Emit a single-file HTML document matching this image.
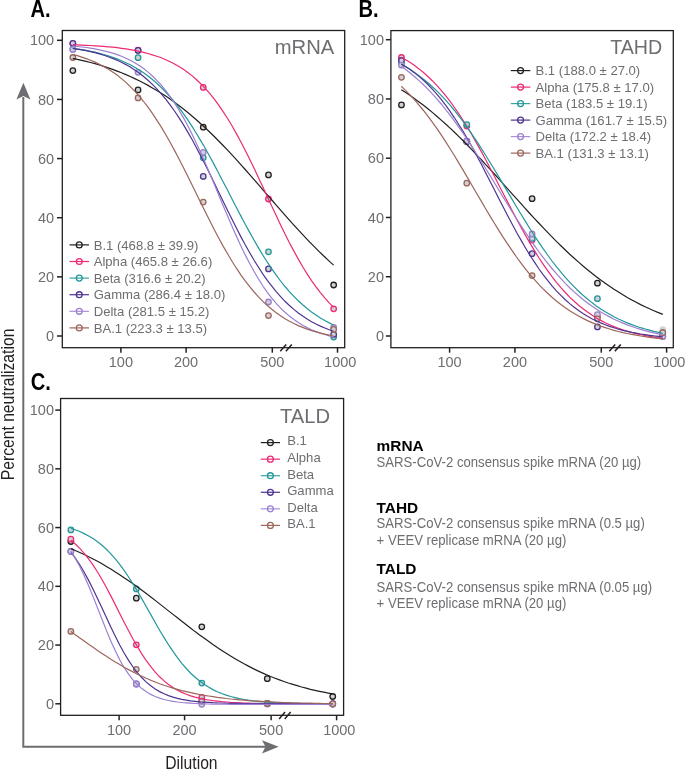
<!DOCTYPE html>
<html><head><meta charset="utf-8"><style>
html,body{margin:0;padding:0;background:#fff;}
body{width:685px;height:770px;overflow:hidden;}
svg{display:block;will-change:transform;font-family:"Liberation Sans", sans-serif;}
</style></head><body>
<svg width="685" height="770" viewBox="0 0 685 770">
<rect width="100%" height="100%" fill="#fff"/>
<rect x="62.3" y="30.5" width="282.40" height="317.20" fill="none" stroke="#231f20" stroke-width="1.3"/>
<line x1="57.0" y1="336.00" x2="62.3" y2="336.00" stroke="#231f20" stroke-width="1.5"/>
<text x="54.20" y="341.10" font-size="14.5" fill="#6d6e71" text-anchor="end" font-weight="normal" >0</text>
<line x1="57.0" y1="276.86" x2="62.3" y2="276.86" stroke="#231f20" stroke-width="1.5"/>
<text x="54.20" y="281.96" font-size="14.5" fill="#6d6e71" text-anchor="end" font-weight="normal" >20</text>
<line x1="57.0" y1="217.72" x2="62.3" y2="217.72" stroke="#231f20" stroke-width="1.5"/>
<text x="54.20" y="222.82" font-size="14.5" fill="#6d6e71" text-anchor="end" font-weight="normal" >40</text>
<line x1="57.0" y1="158.58" x2="62.3" y2="158.58" stroke="#231f20" stroke-width="1.5"/>
<text x="54.20" y="163.68" font-size="14.5" fill="#6d6e71" text-anchor="end" font-weight="normal" >60</text>
<line x1="57.0" y1="99.44" x2="62.3" y2="99.44" stroke="#231f20" stroke-width="1.5"/>
<text x="54.20" y="104.54" font-size="14.5" fill="#6d6e71" text-anchor="end" font-weight="normal" >80</text>
<line x1="57.0" y1="40.30" x2="62.3" y2="40.30" stroke="#231f20" stroke-width="1.5"/>
<text x="54.20" y="45.40" font-size="14.5" fill="#6d6e71" text-anchor="end" font-weight="normal" >100</text>
<line x1="120.90" y1="347.7" x2="120.90" y2="352.7" stroke="#231f20" stroke-width="1.5"/>
<text x="120.90" y="367.30" font-size="14.5" fill="#6d6e71" text-anchor="middle" font-weight="normal" >100</text>
<line x1="186.10" y1="347.7" x2="186.10" y2="352.7" stroke="#231f20" stroke-width="1.5"/>
<text x="186.10" y="367.30" font-size="14.5" fill="#6d6e71" text-anchor="middle" font-weight="normal" >200</text>
<line x1="272.30" y1="347.7" x2="272.30" y2="352.7" stroke="#231f20" stroke-width="1.5"/>
<text x="272.30" y="367.30" font-size="14.5" fill="#6d6e71" text-anchor="middle" font-weight="normal" >500</text>
<line x1="337.50" y1="347.7" x2="337.50" y2="352.7" stroke="#231f20" stroke-width="1.5"/>
<text x="340.20" y="367.30" font-size="14.5" fill="#6d6e71" text-anchor="middle" font-weight="normal" >1000</text>
<line x1="280.30" y1="351.30" x2="286.20" y2="344.40" stroke="#231f20" stroke-width="1.5"/>
<line x1="285.90" y1="351.30" x2="291.80" y2="344.40" stroke="#231f20" stroke-width="1.5"/>
<text x="334.20" y="54.30" font-size="20.2" fill="#6d6e71" text-anchor="end" font-weight="normal" >mRNA</text>
<line x1="69.5" y1="244.90" x2="89.0" y2="244.90" stroke="#231f20" stroke-width="1.2"/>
<circle cx="79.25" cy="244.90" r="2.95" fill="none" stroke="#231f20" stroke-width="1.3"/>
<text x="93.70" y="249.50" font-size="13.1" fill="#6d6e71" text-anchor="start" font-weight="normal" >B.1 (468.8 ± 39.9)</text>
<line x1="69.5" y1="261.50" x2="89.0" y2="261.50" stroke="#eb2a75" stroke-width="1.2"/>
<circle cx="79.25" cy="261.50" r="2.95" fill="none" stroke="#eb2a75" stroke-width="1.3"/>
<text x="93.70" y="266.10" font-size="13.1" fill="#6d6e71" text-anchor="start" font-weight="normal" >Alpha (465.8 ± 26.6)</text>
<line x1="69.5" y1="278.10" x2="89.0" y2="278.10" stroke="#3aa3a3" stroke-width="1.2"/>
<circle cx="79.25" cy="278.10" r="2.95" fill="none" stroke="#21979a" stroke-width="1.3"/>
<text x="93.70" y="282.70" font-size="13.1" fill="#6d6e71" text-anchor="start" font-weight="normal" >Beta (316.6 ± 20.2)</text>
<line x1="69.5" y1="294.70" x2="89.0" y2="294.70" stroke="#4e3492" stroke-width="1.2"/>
<circle cx="79.25" cy="294.70" r="2.95" fill="none" stroke="#4e3492" stroke-width="1.3"/>
<text x="93.70" y="299.30" font-size="13.1" fill="#6d6e71" text-anchor="start" font-weight="normal" >Gamma (286.4 ± 18.0)</text>
<line x1="69.5" y1="311.30" x2="89.0" y2="311.30" stroke="#a98fd8" stroke-width="1.2"/>
<circle cx="79.25" cy="311.30" r="2.95" fill="none" stroke="#9b7fd0" stroke-width="1.3"/>
<text x="93.70" y="315.90" font-size="13.1" fill="#6d6e71" text-anchor="start" font-weight="normal" >Delta (281.5 ± 15.2)</text>
<line x1="69.5" y1="327.90" x2="89.0" y2="327.90" stroke="#9c665b" stroke-width="1.2"/>
<circle cx="79.25" cy="327.90" r="2.95" fill="none" stroke="#9c665b" stroke-width="1.3"/>
<text x="93.70" y="332.50" font-size="13.1" fill="#6d6e71" text-anchor="start" font-weight="normal" >BA.1 (223.3 ± 13.5)</text>
<circle cx="72.85" cy="70.60" r="2.75" fill="#d1d2d4" stroke="#231f20" stroke-width="1.3"/>
<circle cx="138.05" cy="89.90" r="2.75" fill="#d1d2d4" stroke="#231f20" stroke-width="1.3"/>
<circle cx="203.25" cy="127.20" r="2.75" fill="#d1d2d4" stroke="#231f20" stroke-width="1.3"/>
<circle cx="268.46" cy="174.90" r="2.75" fill="#d1d2d4" stroke="#231f20" stroke-width="1.3"/>
<circle cx="333.66" cy="285.00" r="2.75" fill="#d1d2d4" stroke="#231f20" stroke-width="1.3"/>
<circle cx="72.85" cy="43.60" r="2.75" fill="#d1d2d4" stroke="#eb2a75" stroke-width="1.3"/>
<circle cx="138.05" cy="50.20" r="2.75" fill="#d1d2d4" stroke="#eb2a75" stroke-width="1.3"/>
<circle cx="203.25" cy="87.40" r="2.75" fill="#d1d2d4" stroke="#eb2a75" stroke-width="1.3"/>
<circle cx="268.46" cy="199.00" r="2.75" fill="#d1d2d4" stroke="#eb2a75" stroke-width="1.3"/>
<circle cx="333.66" cy="308.80" r="2.75" fill="#d1d2d4" stroke="#eb2a75" stroke-width="1.3"/>
<circle cx="72.85" cy="49.20" r="2.75" fill="#d1d2d4" stroke="#21979a" stroke-width="1.3"/>
<circle cx="138.05" cy="57.70" r="2.75" fill="#d1d2d4" stroke="#21979a" stroke-width="1.3"/>
<circle cx="203.25" cy="157.80" r="2.75" fill="#d1d2d4" stroke="#21979a" stroke-width="1.3"/>
<circle cx="268.46" cy="251.80" r="2.75" fill="#d1d2d4" stroke="#21979a" stroke-width="1.3"/>
<circle cx="333.66" cy="337.00" r="2.75" fill="#d1d2d4" stroke="#21979a" stroke-width="1.3"/>
<circle cx="72.85" cy="43.30" r="2.75" fill="#d1d2d4" stroke="#4e3492" stroke-width="1.3"/>
<circle cx="138.05" cy="50.40" r="2.75" fill="#d1d2d4" stroke="#4e3492" stroke-width="1.3"/>
<circle cx="203.25" cy="176.40" r="2.75" fill="#d1d2d4" stroke="#4e3492" stroke-width="1.3"/>
<circle cx="268.46" cy="268.90" r="2.75" fill="#d1d2d4" stroke="#4e3492" stroke-width="1.3"/>
<circle cx="333.66" cy="334.40" r="2.75" fill="#d1d2d4" stroke="#4e3492" stroke-width="1.3"/>
<circle cx="72.85" cy="49.40" r="2.75" fill="#d1d2d4" stroke="#9b7fd0" stroke-width="1.3"/>
<circle cx="138.05" cy="72.30" r="2.75" fill="#d1d2d4" stroke="#9b7fd0" stroke-width="1.3"/>
<circle cx="203.25" cy="152.30" r="2.75" fill="#d1d2d4" stroke="#9b7fd0" stroke-width="1.3"/>
<circle cx="268.46" cy="302.00" r="2.75" fill="#d1d2d4" stroke="#9b7fd0" stroke-width="1.3"/>
<circle cx="333.66" cy="327.50" r="2.75" fill="#d1d2d4" stroke="#9b7fd0" stroke-width="1.3"/>
<circle cx="72.85" cy="57.50" r="2.75" fill="#d1d2d4" stroke="#9c665b" stroke-width="1.3"/>
<circle cx="138.05" cy="97.90" r="2.75" fill="#d1d2d4" stroke="#9c665b" stroke-width="1.3"/>
<circle cx="203.25" cy="202.10" r="2.75" fill="#d1d2d4" stroke="#9c665b" stroke-width="1.3"/>
<circle cx="268.46" cy="315.60" r="2.75" fill="#d1d2d4" stroke="#9c665b" stroke-width="1.3"/>
<circle cx="333.66" cy="329.40" r="2.75" fill="#d1d2d4" stroke="#9c665b" stroke-width="1.3"/>
<path d="M72.8,58.3 L77.3,59.3 L81.7,60.3 L86.1,61.4 L90.5,62.5 L95.0,63.7 L99.4,65.0 L103.8,66.4 L108.2,67.9 L112.6,69.4 L117.1,71.1 L121.5,72.8 L125.9,74.6 L130.3,76.5 L134.7,78.6 L139.2,80.7 L143.6,83.0 L148.0,85.4 L152.4,87.9 L156.8,90.5 L161.3,93.2 L165.7,96.1 L170.1,99.1 L174.5,102.3 L178.9,105.6 L183.4,109.0 L187.8,112.5 L192.2,116.2 L196.6,120.0 L201.0,124.0 L205.5,128.0 L209.9,132.2 L214.3,136.5 L218.7,141.0 L223.1,145.5 L227.6,150.2 L232.0,154.9 L236.4,159.7 L240.8,164.6 L245.2,169.5 L249.7,174.6 L254.1,179.6 L258.5,184.7 L262.9,189.8 L267.3,194.9 L271.8,200.0 L276.2,205.1 L280.6,210.2 L285.0,215.2 L289.4,220.2 L293.9,225.1 L298.3,229.9 L302.7,234.7 L307.1,239.4 L311.5,243.9 L316.0,248.4 L320.4,252.8 L324.8,257.0 L329.2,261.1 L333.6,265.1" fill="none" stroke="#231f20" stroke-width="1.2"/>
<path d="M72.8,44.7 L77.3,44.9 L81.7,45.1 L86.1,45.3 L90.5,45.5 L95.0,45.8 L99.4,46.1 L103.8,46.4 L108.2,46.8 L112.6,47.2 L117.1,47.7 L121.5,48.3 L125.9,48.9 L130.3,49.6 L134.7,50.4 L139.2,51.3 L143.6,52.3 L148.0,53.5 L152.4,54.8 L156.8,56.2 L161.3,57.8 L165.7,59.7 L170.1,61.7 L174.5,64.0 L178.9,66.5 L183.4,69.3 L187.8,72.5 L192.2,75.9 L196.6,79.8 L201.0,84.0 L205.5,88.6 L209.9,93.7 L214.3,99.2 L218.7,105.2 L223.1,111.6 L227.6,118.5 L232.0,125.8 L236.4,133.6 L240.8,141.8 L245.2,150.3 L249.7,159.2 L254.1,168.3 L258.5,177.7 L262.9,187.1 L267.3,196.7 L271.8,206.2 L276.2,215.6 L280.6,224.9 L285.0,233.9 L289.4,242.7 L293.9,251.1 L298.3,259.1 L302.7,266.7 L307.1,273.9 L311.5,280.6 L316.0,286.8 L320.4,292.6 L324.8,297.9 L329.2,302.8 L333.6,307.3" fill="none" stroke="#eb2a75" stroke-width="1.2"/>
<path d="M72.8,48.4 L77.3,49.0 L81.7,49.7 L86.1,50.4 L90.5,51.3 L95.0,52.2 L99.4,53.3 L103.8,54.5 L108.2,55.8 L112.6,57.3 L117.1,58.9 L121.5,60.7 L125.9,62.7 L130.3,64.8 L134.7,67.3 L139.2,69.9 L143.6,72.8 L148.0,76.0 L152.4,79.5 L156.8,83.3 L161.3,87.5 L165.7,92.0 L170.1,96.8 L174.5,102.0 L178.9,107.6 L183.4,113.6 L187.8,119.9 L192.2,126.7 L196.6,133.7 L201.0,141.1 L205.5,148.8 L209.9,156.7 L214.3,164.9 L218.7,173.3 L223.1,181.8 L227.6,190.3 L232.0,198.9 L236.4,207.5 L240.8,215.9 L245.2,224.3 L249.7,232.4 L254.1,240.3 L258.5,247.9 L262.9,255.2 L267.3,262.2 L271.8,268.8 L276.2,275.1 L280.6,281.0 L285.0,286.5 L289.4,291.6 L293.9,296.3 L298.3,300.8 L302.7,304.8 L307.1,308.5 L311.5,312.0 L316.0,315.1 L320.4,317.9 L324.8,320.5 L329.2,322.9 L333.6,325.0" fill="none" stroke="#21979a" stroke-width="1.2"/>
<path d="M72.8,48.4 L77.3,49.1 L81.7,49.9 L86.1,50.7 L90.5,51.6 L95.0,52.7 L99.4,53.9 L103.8,55.2 L108.2,56.7 L112.6,58.4 L117.1,60.2 L121.5,62.3 L125.9,64.6 L130.3,67.1 L134.7,69.9 L139.2,73.0 L143.6,76.5 L148.0,80.2 L152.4,84.4 L156.8,88.9 L161.3,93.8 L165.7,99.1 L170.1,104.9 L174.5,111.0 L178.9,117.6 L183.4,124.6 L187.8,132.1 L192.2,139.8 L196.6,148.0 L201.0,156.4 L205.5,165.1 L209.9,174.0 L214.3,183.1 L218.7,192.2 L223.1,201.3 L227.6,210.4 L232.0,219.3 L236.4,228.1 L240.8,236.6 L245.2,244.8 L249.7,252.7 L254.1,260.2 L258.5,267.3 L262.9,274.1 L267.3,280.4 L271.8,286.2 L276.2,291.7 L280.6,296.7 L285.0,301.3 L289.4,305.5 L293.9,309.4 L298.3,312.9 L302.7,316.1 L307.1,319.0 L311.5,321.7 L316.0,324.0 L320.4,326.1 L324.8,328.0 L329.2,329.8 L333.6,331.3" fill="none" stroke="#4e3492" stroke-width="1.2"/>
<path d="M72.8,46.0 L77.3,46.5 L81.7,47.0 L86.1,47.5 L90.5,48.2 L95.0,48.9 L99.4,49.8 L103.8,50.8 L108.2,51.9 L112.6,53.2 L117.1,54.6 L121.5,56.3 L125.9,58.2 L130.3,60.3 L134.7,62.8 L139.2,65.5 L143.6,68.6 L148.0,72.1 L152.4,76.0 L156.8,80.4 L161.3,85.2 L165.7,90.6 L170.1,96.5 L174.5,102.9 L178.9,110.0 L183.4,117.6 L187.8,125.8 L192.2,134.5 L196.6,143.7 L201.0,153.4 L205.5,163.4 L209.9,173.8 L214.3,184.3 L218.7,194.9 L223.1,205.5 L227.6,216.0 L232.0,226.2 L236.4,236.2 L240.8,245.7 L245.2,254.9 L249.7,263.5 L254.1,271.5 L258.5,279.0 L262.9,286.0 L267.3,292.3 L271.8,298.1 L276.2,303.3 L280.6,308.1 L285.0,312.3 L289.4,316.1 L293.9,319.5 L298.3,322.6 L302.7,325.2 L307.1,327.6 L311.5,329.7 L316.0,331.5 L320.4,333.1 L324.8,334.5 L329.2,335.8 L333.6,336.9" fill="none" stroke="#9b7fd0" stroke-width="1.2"/>
<path d="M72.8,54.5 L77.3,55.7 L81.7,57.1 L86.1,58.6 L90.5,60.3 L95.0,62.1 L99.4,64.2 L103.8,66.6 L108.2,69.1 L112.6,72.0 L117.1,75.1 L121.5,78.6 L125.9,82.4 L130.3,86.6 L134.7,91.2 L139.2,96.1 L143.6,101.5 L148.0,107.2 L152.4,113.4 L156.8,120.1 L161.3,127.1 L165.7,134.5 L170.1,142.3 L174.5,150.4 L178.9,158.8 L183.4,167.4 L187.8,176.3 L192.2,185.2 L196.6,194.3 L201.0,203.3 L205.5,212.2 L209.9,221.0 L214.3,229.7 L218.7,238.0 L223.1,246.1 L227.6,253.8 L232.0,261.2 L236.4,268.2 L240.8,274.8 L245.2,280.9 L249.7,286.6 L254.1,292.0 L258.5,296.9 L262.9,301.4 L267.3,305.5 L271.8,309.3 L276.2,312.7 L280.6,315.8 L285.0,318.7 L289.4,321.2 L293.9,323.5 L298.3,325.6 L302.7,327.4 L307.1,329.1 L311.5,330.6 L316.0,331.9 L320.4,333.1 L324.8,334.2 L329.2,335.1 L333.6,336.0" fill="none" stroke="#9c665b" stroke-width="1.2"/>
<rect x="390.9" y="30.6" width="282.40" height="317.10" fill="none" stroke="#231f20" stroke-width="1.3"/>
<line x1="385.9" y1="336.00" x2="390.9" y2="336.00" stroke="#231f20" stroke-width="1.5"/>
<text x="384.00" y="341.10" font-size="14.5" fill="#6d6e71" text-anchor="end" font-weight="normal" >0</text>
<line x1="385.9" y1="276.74" x2="390.9" y2="276.74" stroke="#231f20" stroke-width="1.5"/>
<text x="384.00" y="281.84" font-size="14.5" fill="#6d6e71" text-anchor="end" font-weight="normal" >20</text>
<line x1="385.9" y1="217.48" x2="390.9" y2="217.48" stroke="#231f20" stroke-width="1.5"/>
<text x="384.00" y="222.58" font-size="14.5" fill="#6d6e71" text-anchor="end" font-weight="normal" >40</text>
<line x1="385.9" y1="158.22" x2="390.9" y2="158.22" stroke="#231f20" stroke-width="1.5"/>
<text x="384.00" y="163.32" font-size="14.5" fill="#6d6e71" text-anchor="end" font-weight="normal" >60</text>
<line x1="385.9" y1="98.96" x2="390.9" y2="98.96" stroke="#231f20" stroke-width="1.5"/>
<text x="384.00" y="104.06" font-size="14.5" fill="#6d6e71" text-anchor="end" font-weight="normal" >80</text>
<line x1="385.9" y1="39.70" x2="390.9" y2="39.70" stroke="#231f20" stroke-width="1.5"/>
<text x="384.00" y="44.80" font-size="14.5" fill="#6d6e71" text-anchor="end" font-weight="normal" >100</text>
<line x1="449.60" y1="347.7" x2="449.60" y2="352.7" stroke="#231f20" stroke-width="1.5"/>
<text x="449.60" y="367.30" font-size="14.5" fill="#6d6e71" text-anchor="middle" font-weight="normal" >100</text>
<line x1="514.92" y1="347.7" x2="514.92" y2="352.7" stroke="#231f20" stroke-width="1.5"/>
<text x="514.92" y="367.30" font-size="14.5" fill="#6d6e71" text-anchor="middle" font-weight="normal" >200</text>
<line x1="601.28" y1="347.7" x2="601.28" y2="352.7" stroke="#231f20" stroke-width="1.5"/>
<text x="601.28" y="367.30" font-size="14.5" fill="#6d6e71" text-anchor="middle" font-weight="normal" >500</text>
<line x1="666.60" y1="347.7" x2="666.60" y2="352.7" stroke="#231f20" stroke-width="1.5"/>
<text x="669.30" y="367.30" font-size="14.5" fill="#6d6e71" text-anchor="middle" font-weight="normal" >1000</text>
<line x1="609.28" y1="351.30" x2="615.18" y2="344.40" stroke="#231f20" stroke-width="1.5"/>
<line x1="614.88" y1="351.30" x2="620.78" y2="344.40" stroke="#231f20" stroke-width="1.5"/>
<text transform="translate(662.30,54.40) scale(0.975,1)" font-size="20.2" fill="#6d6e71" text-anchor="end" font-weight="normal" >TAHD</text>
<line x1="510.8" y1="70.60" x2="530.3" y2="70.60" stroke="#231f20" stroke-width="1.2"/>
<circle cx="520.55" cy="70.60" r="2.95" fill="none" stroke="#231f20" stroke-width="1.3"/>
<text x="535.50" y="75.20" font-size="13.1" fill="#6d6e71" text-anchor="start" font-weight="normal" >B.1 (188.0 ± 27.0)</text>
<line x1="510.8" y1="87.10" x2="530.3" y2="87.10" stroke="#eb2a75" stroke-width="1.2"/>
<circle cx="520.55" cy="87.10" r="2.95" fill="none" stroke="#eb2a75" stroke-width="1.3"/>
<text x="535.50" y="91.70" font-size="13.1" fill="#6d6e71" text-anchor="start" font-weight="normal" >Alpha (175.8 ± 17.0)</text>
<line x1="510.8" y1="103.60" x2="530.3" y2="103.60" stroke="#3aa3a3" stroke-width="1.2"/>
<circle cx="520.55" cy="103.60" r="2.95" fill="none" stroke="#21979a" stroke-width="1.3"/>
<text x="535.50" y="108.20" font-size="13.1" fill="#6d6e71" text-anchor="start" font-weight="normal" >Beta (183.5 ± 19.1)</text>
<line x1="510.8" y1="120.10" x2="530.3" y2="120.10" stroke="#4e3492" stroke-width="1.2"/>
<circle cx="520.55" cy="120.10" r="2.95" fill="none" stroke="#4e3492" stroke-width="1.3"/>
<text x="535.50" y="124.70" font-size="13.1" fill="#6d6e71" text-anchor="start" font-weight="normal" >Gamma (161.7 ± 15.5)</text>
<line x1="510.8" y1="136.60" x2="530.3" y2="136.60" stroke="#a98fd8" stroke-width="1.2"/>
<circle cx="520.55" cy="136.60" r="2.95" fill="none" stroke="#9b7fd0" stroke-width="1.3"/>
<text x="535.50" y="141.20" font-size="13.1" fill="#6d6e71" text-anchor="start" font-weight="normal" >Delta (172.2 ± 18.4)</text>
<line x1="510.8" y1="153.10" x2="530.3" y2="153.10" stroke="#9c665b" stroke-width="1.2"/>
<circle cx="520.55" cy="153.10" r="2.95" fill="none" stroke="#9c665b" stroke-width="1.3"/>
<text x="535.50" y="157.70" font-size="13.1" fill="#6d6e71" text-anchor="start" font-weight="normal" >BA.1 (131.3 ± 13.1)</text>
<circle cx="662.8" cy="329.6" r="3.4" fill="#d3d3d5"/>
<circle cx="401.46" cy="104.90" r="2.75" fill="#d1d2d4" stroke="#231f20" stroke-width="1.3"/>
<circle cx="466.78" cy="141.50" r="2.75" fill="#d1d2d4" stroke="#231f20" stroke-width="1.3"/>
<circle cx="532.11" cy="198.70" r="2.75" fill="#d1d2d4" stroke="#231f20" stroke-width="1.3"/>
<circle cx="597.43" cy="283.20" r="2.75" fill="#d1d2d4" stroke="#231f20" stroke-width="1.3"/>
<circle cx="662.75" cy="332.80" r="2.75" fill="#d1d2d4" stroke="#231f20" stroke-width="1.3"/>
<circle cx="401.46" cy="57.50" r="2.75" fill="#d1d2d4" stroke="#eb2a75" stroke-width="1.3"/>
<circle cx="466.78" cy="126.00" r="2.75" fill="#d1d2d4" stroke="#eb2a75" stroke-width="1.3"/>
<circle cx="532.11" cy="240.00" r="2.75" fill="#d1d2d4" stroke="#eb2a75" stroke-width="1.3"/>
<circle cx="597.43" cy="316.50" r="2.75" fill="#d1d2d4" stroke="#eb2a75" stroke-width="1.3"/>
<circle cx="662.75" cy="336.20" r="2.75" fill="#d1d2d4" stroke="#eb2a75" stroke-width="1.3"/>
<circle cx="401.46" cy="63.00" r="2.75" fill="#d1d2d4" stroke="#21979a" stroke-width="1.3"/>
<circle cx="466.78" cy="124.60" r="2.75" fill="#d1d2d4" stroke="#21979a" stroke-width="1.3"/>
<circle cx="532.11" cy="238.40" r="2.75" fill="#d1d2d4" stroke="#21979a" stroke-width="1.3"/>
<circle cx="597.43" cy="298.70" r="2.75" fill="#d1d2d4" stroke="#21979a" stroke-width="1.3"/>
<circle cx="662.75" cy="336.00" r="2.75" fill="#d1d2d4" stroke="#21979a" stroke-width="1.3"/>
<circle cx="401.46" cy="60.50" r="2.75" fill="#d1d2d4" stroke="#4e3492" stroke-width="1.3"/>
<circle cx="466.78" cy="141.50" r="2.75" fill="#d1d2d4" stroke="#4e3492" stroke-width="1.3"/>
<circle cx="532.11" cy="253.70" r="2.75" fill="#d1d2d4" stroke="#4e3492" stroke-width="1.3"/>
<circle cx="597.43" cy="326.90" r="2.75" fill="#d1d2d4" stroke="#4e3492" stroke-width="1.3"/>
<circle cx="662.75" cy="336.30" r="2.75" fill="#d1d2d4" stroke="#4e3492" stroke-width="1.3"/>
<circle cx="401.46" cy="65.20" r="2.75" fill="#d1d2d4" stroke="#9b7fd0" stroke-width="1.3"/>
<circle cx="466.78" cy="141.20" r="2.75" fill="#d1d2d4" stroke="#9b7fd0" stroke-width="1.3"/>
<circle cx="532.11" cy="234.00" r="2.75" fill="#d1d2d4" stroke="#9b7fd0" stroke-width="1.3"/>
<circle cx="597.43" cy="314.60" r="2.75" fill="#d1d2d4" stroke="#9b7fd0" stroke-width="1.3"/>
<circle cx="662.75" cy="336.50" r="2.75" fill="#d1d2d4" stroke="#9b7fd0" stroke-width="1.3"/>
<circle cx="401.46" cy="77.30" r="2.75" fill="#d1d2d4" stroke="#9c665b" stroke-width="1.3"/>
<circle cx="466.78" cy="183.20" r="2.75" fill="#d1d2d4" stroke="#9c665b" stroke-width="1.3"/>
<circle cx="532.11" cy="275.60" r="2.75" fill="#d1d2d4" stroke="#9c665b" stroke-width="1.3"/>
<circle cx="597.43" cy="318.80" r="2.75" fill="#d1d2d4" stroke="#9c665b" stroke-width="1.3"/>
<circle cx="662.75" cy="332.70" r="2.75" fill="#d1d2d4" stroke="#9c665b" stroke-width="1.3"/>
<path d="M401.3,89.7 L405.7,92.6 L410.2,95.6 L414.6,98.7 L419.0,101.9 L423.5,105.3 L427.9,108.8 L432.3,112.4 L436.8,116.2 L441.2,120.1 L445.6,124.0 L450.1,128.1 L454.5,132.3 L458.9,136.6 L463.4,141.0 L467.8,145.5 L472.2,150.1 L476.6,154.8 L481.1,159.5 L485.5,164.3 L489.9,169.1 L494.4,174.0 L498.8,178.9 L503.2,183.9 L507.7,188.8 L512.1,193.8 L516.5,198.7 L521.0,203.7 L525.4,208.6 L529.8,213.5 L534.3,218.3 L538.7,223.0 L543.1,227.7 L547.6,232.4 L552.0,236.9 L556.4,241.4 L560.9,245.7 L565.3,250.0 L569.7,254.2 L574.2,258.2 L578.6,262.1 L583.0,266.0 L587.5,269.7 L591.9,273.2 L596.3,276.7 L600.7,280.0 L605.2,283.2 L609.6,286.3 L614.0,289.3 L618.5,292.1 L622.9,294.8 L627.3,297.4 L631.8,299.9 L636.2,302.3 L640.6,304.6 L645.1,306.7 L649.5,308.8 L653.9,310.7 L658.4,312.6 L662.8,314.4" fill="none" stroke="#231f20" stroke-width="1.2"/>
<path d="M401.3,57.2 L405.7,59.7 L410.2,62.5 L414.6,65.6 L419.0,68.9 L423.5,72.5 L427.9,76.5 L432.3,80.7 L436.8,85.4 L441.2,90.3 L445.6,95.7 L450.1,101.4 L454.5,107.5 L458.9,113.9 L463.4,120.7 L467.8,127.9 L472.2,135.3 L476.6,143.1 L481.1,151.1 L485.5,159.3 L489.9,167.7 L494.4,176.3 L498.8,184.9 L503.2,193.5 L507.7,202.1 L512.1,210.6 L516.5,219.0 L521.0,227.2 L525.4,235.2 L529.8,242.9 L534.3,250.4 L538.7,257.5 L543.1,264.2 L547.6,270.6 L552.0,276.6 L556.4,282.3 L560.9,287.6 L565.3,292.5 L569.7,297.1 L574.2,301.3 L578.6,305.2 L583.0,308.8 L587.5,312.1 L591.9,315.1 L596.3,317.9 L600.7,320.4 L605.2,322.7 L609.6,324.7 L614.0,326.6 L618.5,328.3 L622.9,329.8 L627.3,331.2 L631.8,332.5 L636.2,333.6 L640.6,334.6 L645.1,335.5 L649.5,336.4 L653.9,337.1 L658.4,337.8 L662.8,338.4" fill="none" stroke="#eb2a75" stroke-width="1.2"/>
<path d="M401.3,64.3 L405.7,66.8 L410.2,69.5 L414.6,72.5 L419.0,75.7 L423.5,79.1 L427.9,82.7 L432.3,86.7 L436.8,90.9 L441.2,95.4 L445.6,100.1 L450.1,105.2 L454.5,110.5 L458.9,116.1 L463.4,122.0 L467.8,128.2 L472.2,134.6 L476.6,141.2 L481.1,148.0 L485.5,155.0 L489.9,162.2 L494.4,169.5 L498.8,176.9 L503.2,184.4 L507.7,191.9 L512.1,199.4 L516.5,206.8 L521.0,214.2 L525.4,221.4 L529.8,228.5 L534.3,235.5 L538.7,242.2 L543.1,248.7 L547.6,255.0 L552.0,261.0 L556.4,266.7 L560.9,272.2 L565.3,277.3 L569.7,282.2 L574.2,286.8 L578.6,291.2 L583.0,295.2 L587.5,299.0 L591.9,302.6 L596.3,305.9 L600.7,308.9 L605.2,311.7 L609.6,314.3 L614.0,316.8 L618.5,319.0 L622.9,321.0 L627.3,322.9 L631.8,324.6 L636.2,326.2 L640.6,327.7 L645.1,329.0 L649.5,330.2 L653.9,331.3 L658.4,332.3 L662.8,333.3" fill="none" stroke="#21979a" stroke-width="1.2"/>
<path d="M401.3,64.0 L405.7,66.7 L410.2,69.6 L414.6,72.9 L419.0,76.4 L423.5,80.3 L427.9,84.5 L432.3,89.1 L436.8,94.1 L441.2,99.4 L445.6,105.2 L450.1,111.3 L454.5,117.8 L458.9,124.7 L463.4,131.9 L467.8,139.5 L472.2,147.3 L476.6,155.5 L481.1,163.8 L485.5,172.4 L489.9,181.0 L494.4,189.7 L498.8,198.5 L503.2,207.1 L507.7,215.7 L512.1,224.0 L516.5,232.2 L521.0,240.1 L525.4,247.7 L529.8,255.0 L534.3,261.9 L538.7,268.5 L543.1,274.6 L547.6,280.4 L552.0,285.8 L556.4,290.8 L560.9,295.4 L565.3,299.7 L569.7,303.6 L574.2,307.2 L578.6,310.5 L583.0,313.5 L587.5,316.2 L591.9,318.7 L596.3,320.9 L600.7,322.9 L605.2,324.7 L609.6,326.4 L614.0,327.8 L618.5,329.2 L622.9,330.4 L627.3,331.4 L631.8,332.4 L636.2,333.2 L640.6,334.0 L645.1,334.7 L649.5,335.3 L653.9,335.9 L658.4,336.3 L662.8,336.8" fill="none" stroke="#4e3492" stroke-width="1.2"/>
<path d="M401.3,66.3 L405.7,69.5 L410.2,73.0 L414.6,76.7 L419.0,80.6 L423.5,84.8 L427.9,89.2 L432.3,93.9 L436.8,98.8 L441.2,104.0 L445.6,109.5 L450.1,115.2 L454.5,121.1 L458.9,127.3 L463.4,133.7 L467.8,140.3 L472.2,147.1 L476.6,154.0 L481.1,161.0 L485.5,168.2 L489.9,175.4 L494.4,182.7 L498.8,190.0 L503.2,197.2 L507.7,204.5 L512.1,211.6 L516.5,218.7 L521.0,225.6 L525.4,232.3 L529.8,238.9 L534.3,245.3 L538.7,251.5 L543.1,257.4 L547.6,263.1 L552.0,268.5 L556.4,273.7 L560.9,278.7 L565.3,283.3 L569.7,287.7 L574.2,291.9 L578.6,295.8 L583.0,299.5 L587.5,302.9 L591.9,306.1 L596.3,309.1 L600.7,311.9 L605.2,314.5 L609.6,316.9 L614.0,319.2 L618.5,321.2 L622.9,323.1 L627.3,324.9 L631.8,326.5 L636.2,328.0 L640.6,329.4 L645.1,330.7 L649.5,331.8 L653.9,332.9 L658.4,333.9 L662.8,334.8" fill="none" stroke="#9b7fd0" stroke-width="1.2"/>
<path d="M401.3,86.3 L405.7,90.6 L410.2,95.1 L414.6,99.9 L419.0,105.1 L423.5,110.5 L427.9,116.2 L432.3,122.2 L436.8,128.4 L441.2,134.9 L445.6,141.7 L450.1,148.7 L454.5,155.8 L458.9,163.1 L463.4,170.6 L467.8,178.1 L472.2,185.7 L476.6,193.3 L481.1,200.9 L485.5,208.5 L489.9,215.9 L494.4,223.2 L498.8,230.4 L503.2,237.4 L507.7,244.2 L512.1,250.7 L516.5,257.0 L521.0,263.1 L525.4,268.8 L529.8,274.3 L534.3,279.4 L538.7,284.3 L543.1,288.9 L547.6,293.2 L552.0,297.2 L556.4,301.0 L560.9,304.5 L565.3,307.7 L569.7,310.7 L574.2,313.5 L578.6,316.1 L583.0,318.4 L587.5,320.6 L591.9,322.6 L596.3,324.4 L600.7,326.1 L605.2,327.6 L609.6,329.0 L614.0,330.3 L618.5,331.5 L622.9,332.6 L627.3,333.5 L631.8,334.4 L636.2,335.2 L640.6,336.0 L645.1,336.6 L649.5,337.3 L653.9,337.8 L658.4,338.3 L662.8,338.8" fill="none" stroke="#9c665b" stroke-width="1.2"/>
<rect x="60.6" y="398.5" width="283.00" height="316.80" fill="none" stroke="#231f20" stroke-width="1.3"/>
<line x1="55.3" y1="703.80" x2="60.6" y2="703.80" stroke="#231f20" stroke-width="1.5"/>
<text x="54.00" y="708.90" font-size="14.5" fill="#6d6e71" text-anchor="end" font-weight="normal" >0</text>
<line x1="55.3" y1="645.06" x2="60.6" y2="645.06" stroke="#231f20" stroke-width="1.5"/>
<text x="54.00" y="650.16" font-size="14.5" fill="#6d6e71" text-anchor="end" font-weight="normal" >20</text>
<line x1="55.3" y1="586.32" x2="60.6" y2="586.32" stroke="#231f20" stroke-width="1.5"/>
<text x="54.00" y="591.42" font-size="14.5" fill="#6d6e71" text-anchor="end" font-weight="normal" >40</text>
<line x1="55.3" y1="527.58" x2="60.6" y2="527.58" stroke="#231f20" stroke-width="1.5"/>
<text x="54.00" y="532.68" font-size="14.5" fill="#6d6e71" text-anchor="end" font-weight="normal" >60</text>
<line x1="55.3" y1="468.84" x2="60.6" y2="468.84" stroke="#231f20" stroke-width="1.5"/>
<text x="54.00" y="473.94" font-size="14.5" fill="#6d6e71" text-anchor="end" font-weight="normal" >80</text>
<line x1="55.3" y1="410.10" x2="60.6" y2="410.10" stroke="#231f20" stroke-width="1.5"/>
<text x="54.00" y="415.20" font-size="14.5" fill="#6d6e71" text-anchor="end" font-weight="normal" >100</text>
<line x1="119.10" y1="715.3" x2="119.10" y2="720.3" stroke="#231f20" stroke-width="1.5"/>
<text x="119.10" y="734.90" font-size="14.5" fill="#6d6e71" text-anchor="middle" font-weight="normal" >100</text>
<line x1="184.57" y1="715.3" x2="184.57" y2="720.3" stroke="#231f20" stroke-width="1.5"/>
<text x="184.57" y="734.90" font-size="14.5" fill="#6d6e71" text-anchor="middle" font-weight="normal" >200</text>
<line x1="271.13" y1="715.3" x2="271.13" y2="720.3" stroke="#231f20" stroke-width="1.5"/>
<text x="271.13" y="734.90" font-size="14.5" fill="#6d6e71" text-anchor="middle" font-weight="normal" >500</text>
<line x1="336.60" y1="715.3" x2="336.60" y2="720.3" stroke="#231f20" stroke-width="1.5"/>
<text x="339.30" y="734.90" font-size="14.5" fill="#6d6e71" text-anchor="middle" font-weight="normal" >1000</text>
<line x1="279.13" y1="718.90" x2="285.03" y2="712.00" stroke="#231f20" stroke-width="1.5"/>
<line x1="284.73" y1="718.90" x2="290.63" y2="712.00" stroke="#231f20" stroke-width="1.5"/>
<text x="330.00" y="422.50" font-size="20.2" fill="#6d6e71" text-anchor="end" font-weight="normal" >TALD</text>
<line x1="260.8" y1="442.60" x2="280.0" y2="442.60" stroke="#231f20" stroke-width="1.2"/>
<circle cx="270.40" cy="442.60" r="2.95" fill="none" stroke="#231f20" stroke-width="1.3"/>
<text x="287.20" y="445.40" font-size="13.1" fill="#6d6e71" text-anchor="start" font-weight="normal" >B.1</text>
<line x1="260.8" y1="459.16" x2="280.0" y2="459.16" stroke="#eb2a75" stroke-width="1.2"/>
<circle cx="270.40" cy="459.16" r="2.95" fill="none" stroke="#eb2a75" stroke-width="1.3"/>
<text x="287.20" y="461.96" font-size="13.1" fill="#6d6e71" text-anchor="start" font-weight="normal" >Alpha</text>
<line x1="260.8" y1="475.72" x2="280.0" y2="475.72" stroke="#3aa3a3" stroke-width="1.2"/>
<circle cx="270.40" cy="475.72" r="2.95" fill="none" stroke="#21979a" stroke-width="1.3"/>
<text x="287.20" y="478.52" font-size="13.1" fill="#6d6e71" text-anchor="start" font-weight="normal" >Beta</text>
<line x1="260.8" y1="492.28" x2="280.0" y2="492.28" stroke="#4e3492" stroke-width="1.2"/>
<circle cx="270.40" cy="492.28" r="2.95" fill="none" stroke="#4e3492" stroke-width="1.3"/>
<text x="287.20" y="495.08" font-size="13.1" fill="#6d6e71" text-anchor="start" font-weight="normal" >Gamma</text>
<line x1="260.8" y1="508.84" x2="280.0" y2="508.84" stroke="#a98fd8" stroke-width="1.2"/>
<circle cx="270.40" cy="508.84" r="2.95" fill="none" stroke="#9b7fd0" stroke-width="1.3"/>
<text x="287.20" y="511.64" font-size="13.1" fill="#6d6e71" text-anchor="start" font-weight="normal" >Delta</text>
<line x1="260.8" y1="525.40" x2="280.0" y2="525.40" stroke="#9c665b" stroke-width="1.2"/>
<circle cx="270.40" cy="525.40" r="2.95" fill="none" stroke="#9c665b" stroke-width="1.3"/>
<text x="287.20" y="528.20" font-size="13.1" fill="#6d6e71" text-anchor="start" font-weight="normal" >BA.1</text>
<circle cx="70.85" cy="541.50" r="2.75" fill="#d1d2d4" stroke="#231f20" stroke-width="1.3"/>
<circle cx="136.32" cy="598.20" r="2.75" fill="#d1d2d4" stroke="#231f20" stroke-width="1.3"/>
<circle cx="201.80" cy="626.80" r="2.75" fill="#d1d2d4" stroke="#231f20" stroke-width="1.3"/>
<circle cx="267.27" cy="678.70" r="2.75" fill="#d1d2d4" stroke="#231f20" stroke-width="1.3"/>
<circle cx="332.74" cy="696.50" r="2.75" fill="#d1d2d4" stroke="#231f20" stroke-width="1.3"/>
<circle cx="70.85" cy="539.20" r="2.75" fill="#d1d2d4" stroke="#eb2a75" stroke-width="1.3"/>
<circle cx="136.32" cy="644.80" r="2.75" fill="#d1d2d4" stroke="#eb2a75" stroke-width="1.3"/>
<circle cx="201.80" cy="697.40" r="2.75" fill="#d1d2d4" stroke="#eb2a75" stroke-width="1.3"/>
<circle cx="267.27" cy="703.40" r="2.75" fill="#d1d2d4" stroke="#eb2a75" stroke-width="1.3"/>
<circle cx="332.74" cy="703.60" r="2.75" fill="#d1d2d4" stroke="#eb2a75" stroke-width="1.3"/>
<circle cx="70.85" cy="529.90" r="2.75" fill="#d1d2d4" stroke="#21979a" stroke-width="1.3"/>
<circle cx="136.32" cy="588.90" r="2.75" fill="#d1d2d4" stroke="#21979a" stroke-width="1.3"/>
<circle cx="201.80" cy="683.10" r="2.75" fill="#d1d2d4" stroke="#21979a" stroke-width="1.3"/>
<circle cx="267.27" cy="703.50" r="2.75" fill="#d1d2d4" stroke="#21979a" stroke-width="1.3"/>
<circle cx="332.74" cy="703.80" r="2.75" fill="#d1d2d4" stroke="#21979a" stroke-width="1.3"/>
<circle cx="70.85" cy="551.30" r="2.75" fill="#d1d2d4" stroke="#4e3492" stroke-width="1.3"/>
<circle cx="136.32" cy="684.00" r="2.75" fill="#d1d2d4" stroke="#4e3492" stroke-width="1.3"/>
<circle cx="201.80" cy="701.50" r="2.75" fill="#d1d2d4" stroke="#4e3492" stroke-width="1.3"/>
<circle cx="267.27" cy="703.80" r="2.75" fill="#d1d2d4" stroke="#4e3492" stroke-width="1.3"/>
<circle cx="332.74" cy="704.00" r="2.75" fill="#d1d2d4" stroke="#4e3492" stroke-width="1.3"/>
<circle cx="70.85" cy="551.50" r="2.75" fill="#d1d2d4" stroke="#9b7fd0" stroke-width="1.3"/>
<circle cx="136.32" cy="683.90" r="2.75" fill="#d1d2d4" stroke="#9b7fd0" stroke-width="1.3"/>
<circle cx="201.80" cy="704.30" r="2.75" fill="#d1d2d4" stroke="#9b7fd0" stroke-width="1.3"/>
<circle cx="267.27" cy="703.90" r="2.75" fill="#d1d2d4" stroke="#9b7fd0" stroke-width="1.3"/>
<circle cx="332.74" cy="704.00" r="2.75" fill="#d1d2d4" stroke="#9b7fd0" stroke-width="1.3"/>
<circle cx="70.85" cy="631.40" r="2.75" fill="#d1d2d4" stroke="#9c665b" stroke-width="1.3"/>
<circle cx="136.32" cy="669.30" r="2.75" fill="#d1d2d4" stroke="#9c665b" stroke-width="1.3"/>
<circle cx="201.80" cy="701.10" r="2.75" fill="#d1d2d4" stroke="#9c665b" stroke-width="1.3"/>
<circle cx="267.27" cy="703.50" r="2.75" fill="#d1d2d4" stroke="#9c665b" stroke-width="1.3"/>
<circle cx="332.74" cy="703.80" r="2.75" fill="#d1d2d4" stroke="#9c665b" stroke-width="1.3"/>
<path d="M70.9,548.6 L75.3,550.5 L79.8,552.5 L84.2,554.5 L88.6,556.7 L93.1,559.0 L97.5,561.3 L102.0,563.8 L106.4,566.4 L110.8,569.1 L115.3,571.9 L119.7,574.7 L124.1,577.7 L128.6,580.7 L133.0,583.8 L137.5,587.0 L141.9,590.3 L146.3,593.6 L150.8,597.0 L155.2,600.4 L159.6,603.9 L164.1,607.4 L168.5,610.9 L173.0,614.4 L177.4,617.8 L181.8,621.3 L186.3,624.8 L190.7,628.2 L195.1,631.6 L199.6,634.9 L204.0,638.1 L208.5,641.3 L212.9,644.5 L217.3,647.5 L221.8,650.4 L226.2,653.3 L230.6,656.1 L235.1,658.7 L239.5,661.3 L244.0,663.8 L248.4,666.1 L252.8,668.4 L257.3,670.6 L261.7,672.6 L266.1,674.6 L270.6,676.5 L275.0,678.2 L279.5,679.9 L283.9,681.5 L288.3,683.0 L292.8,684.4 L297.2,685.7 L301.6,687.0 L306.1,688.2 L310.5,689.3 L315.0,690.3 L319.4,691.3 L323.8,692.2 L328.3,693.1 L332.7,693.9" fill="none" stroke="#231f20" stroke-width="1.2"/>
<path d="M70.9,540.2 L75.3,544.0 L79.8,548.4 L84.2,553.3 L88.6,558.9 L93.1,565.2 L97.5,572.0 L102.0,579.5 L106.4,587.5 L110.8,595.9 L115.3,604.6 L119.7,613.4 L124.1,622.2 L128.6,630.8 L133.0,639.0 L137.5,646.8 L141.9,654.1 L146.3,660.7 L150.8,666.7 L155.2,672.1 L159.6,676.8 L164.1,680.9 L168.5,684.5 L173.0,687.6 L177.4,690.2 L181.8,692.4 L186.3,694.3 L190.7,695.9 L195.1,697.2 L199.6,698.3 L204.0,699.3 L208.5,700.0 L212.9,700.7 L217.3,701.2 L221.8,701.7 L226.2,702.0 L230.6,702.4 L235.1,702.6 L239.5,702.8 L244.0,703.0 L248.4,703.1 L252.8,703.3 L257.3,703.4 L261.7,703.4 L266.1,703.5 L270.6,703.6 L275.0,703.6 L279.5,703.6 L283.9,703.7 L288.3,703.7 L292.8,703.7 L297.2,703.7 L301.6,703.7 L306.1,703.8 L310.5,703.8 L315.0,703.8 L319.4,703.8 L323.8,703.8 L328.3,703.8 L332.7,703.8" fill="none" stroke="#eb2a75" stroke-width="1.2"/>
<path d="M70.9,528.2 L75.3,529.8 L79.8,531.5 L84.2,533.6 L88.6,535.9 L93.1,538.6 L97.5,541.7 L102.0,545.3 L106.4,549.3 L110.8,553.8 L115.3,558.8 L119.7,564.4 L124.1,570.4 L128.6,577.0 L133.0,584.0 L137.5,591.3 L141.9,598.9 L146.3,606.8 L150.8,614.6 L155.2,622.5 L159.6,630.2 L164.1,637.6 L168.5,644.7 L173.0,651.4 L177.4,657.6 L181.8,663.3 L186.3,668.5 L190.7,673.2 L195.1,677.3 L199.6,681.0 L204.0,684.3 L208.5,687.1 L212.9,689.6 L217.3,691.7 L221.8,693.5 L226.2,695.1 L230.6,696.5 L235.1,697.6 L239.5,698.6 L244.0,699.5 L248.4,700.2 L252.8,700.8 L257.3,701.3 L261.7,701.7 L266.1,702.1 L270.6,702.4 L275.0,702.7 L279.5,702.9 L283.9,703.1 L288.3,703.2 L292.8,703.4 L297.2,703.5 L301.6,703.6 L306.1,703.7 L310.5,703.7 L315.0,703.8 L319.4,703.8 L323.8,703.9 L328.3,703.9 L332.7,703.9" fill="none" stroke="#21979a" stroke-width="1.2"/>
<path d="M70.9,552.2 L75.3,558.1 L79.8,564.8 L84.2,572.2 L88.6,580.4 L93.1,589.2 L97.5,598.4 L102.0,607.9 L106.4,617.6 L110.8,627.1 L115.3,636.3 L119.7,645.0 L124.1,653.0 L128.6,660.4 L133.0,667.0 L137.5,672.8 L141.9,677.8 L146.3,682.1 L150.8,685.8 L155.2,689.0 L159.6,691.6 L164.1,693.8 L168.5,695.6 L173.0,697.1 L177.4,698.3 L181.8,699.3 L186.3,700.1 L190.7,700.8 L195.1,701.3 L199.6,701.8 L204.0,702.1 L208.5,702.4 L212.9,702.7 L217.3,702.9 L221.8,703.0 L226.2,703.2 L230.6,703.3 L235.1,703.4 L239.5,703.4 L244.0,703.5 L248.4,703.5 L252.8,703.6 L257.3,703.6 L261.7,703.6 L266.1,703.6 L270.6,703.7 L275.0,703.7 L279.5,703.7 L283.9,703.7 L288.3,703.7 L292.8,703.7 L297.2,703.7 L301.6,703.7 L306.1,703.7 L310.5,703.7 L315.0,703.7 L319.4,703.7 L323.8,703.7 L328.3,703.7 L332.7,703.7" fill="none" stroke="#4e3492" stroke-width="1.2"/>
<path d="M70.9,551.3 L75.3,558.4 L79.8,566.5 L84.2,575.7 L88.6,585.8 L93.1,596.6 L97.5,607.9 L102.0,619.3 L106.4,630.4 L110.8,641.0 L115.3,650.8 L119.7,659.7 L124.1,667.5 L128.6,674.2 L133.0,679.9 L137.5,684.7 L141.9,688.6 L146.3,691.8 L150.8,694.4 L155.2,696.5 L159.6,698.1 L164.1,699.5 L168.5,700.5 L173.0,701.3 L177.4,702.0 L181.8,702.5 L186.3,702.9 L190.7,703.2 L195.1,703.5 L199.6,703.7 L204.0,703.8 L208.5,704.0 L212.9,704.1 L217.3,704.1 L221.8,704.2 L226.2,704.2 L230.6,704.3 L235.1,704.3 L239.5,704.3 L244.0,704.3 L248.4,704.3 L252.8,704.4 L257.3,704.4 L261.7,704.4 L266.1,704.4 L270.6,704.4 L275.0,704.4 L279.5,704.4 L283.9,704.4 L288.3,704.4 L292.8,704.4 L297.2,704.4 L301.6,704.4 L306.1,704.4 L310.5,704.4 L315.0,704.4 L319.4,704.4 L323.8,704.4 L328.3,704.4 L332.7,704.4" fill="none" stroke="#9b7fd0" stroke-width="1.2"/>
<path d="M70.9,631.5 L75.3,634.7 L79.8,637.9 L84.2,641.0 L88.6,644.2 L93.1,647.3 L97.5,650.4 L102.0,653.4 L106.4,656.3 L110.8,659.2 L115.3,662.0 L119.7,664.6 L124.1,667.2 L128.6,669.6 L133.0,672.0 L137.5,674.2 L141.9,676.3 L146.3,678.3 L150.8,680.2 L155.2,682.0 L159.6,683.7 L164.1,685.3 L168.5,686.7 L173.0,688.1 L177.4,689.4 L181.8,690.6 L186.3,691.7 L190.7,692.7 L195.1,693.6 L199.6,694.5 L204.0,695.3 L208.5,696.0 L212.9,696.7 L217.3,697.4 L221.8,697.9 L226.2,698.5 L230.6,699.0 L235.1,699.4 L239.5,699.8 L244.0,700.2 L248.4,700.6 L252.8,700.9 L257.3,701.2 L261.7,701.4 L266.1,701.7 L270.6,701.9 L275.0,702.1 L279.5,702.3 L283.9,702.5 L288.3,702.6 L292.8,702.8 L297.2,702.9 L301.6,703.0 L306.1,703.1 L310.5,703.2 L315.0,703.3 L319.4,703.4 L323.8,703.5 L328.3,703.6 L332.7,703.6" fill="none" stroke="#9c665b" stroke-width="1.2"/>
<text transform="translate(30.60,16.90) scale(0.82,1)" font-size="24.5" fill="#000" text-anchor="start" font-weight="bold" >A.</text>
<text transform="translate(358.60,16.90) scale(0.82,1)" font-size="24.5" fill="#000" text-anchor="start" font-weight="bold" >B.</text>
<text transform="translate(30.80,389.60) scale(0.82,1)" font-size="24.5" fill="#000" text-anchor="start" font-weight="bold" >C.</text>
<path d="M23.3,97 L23.3,746.8 L266,746.8" fill="none" stroke="#6d6e71" stroke-width="2"/>
<path d="M23.4,82.7 L30.4,99.5 L23.4,96 L16.4,99.5 Z" fill="#6d6e71"/>
<path d="M278.7,746.8 L262,740.2 L265.5,746.8 L262,753.4 Z" fill="#6d6e71"/>
<text transform="translate(13.9,480.2) rotate(-90) scale(0.834,1)" font-size="18.8" fill="#231f20">Percent neutralization</text>
<text transform="translate(165.30,769.30) scale(0.835,1)" font-size="18.8" fill="#231f20" text-anchor="start" font-weight="normal" >Dilution</text>
<text x="376.60" y="450.80" font-size="15.4" fill="#000" text-anchor="start" font-weight="bold" >mRNA</text>
<text transform="translate(376.60,467.10) scale(0.92,1)" font-size="14.3" fill="#6d6e71" text-anchor="start" font-weight="normal" >SARS-CoV-2 consensus spike mRNA (20 µg)</text>
<text x="376.60" y="512.50" font-size="15.4" fill="#000" text-anchor="start" font-weight="bold" >TAHD</text>
<text transform="translate(376.60,528.30) scale(0.92,1)" font-size="14.3" fill="#6d6e71" text-anchor="start" font-weight="normal" >SARS-CoV-2 consensus spike mRNA (0.5 µg)</text>
<text transform="translate(376.60,544.50) scale(0.92,1)" font-size="14.3" fill="#6d6e71" text-anchor="start" font-weight="normal" >+ VEEV replicase mRNA (20 µg)</text>
<text x="376.60" y="573.80" font-size="15.4" fill="#000" text-anchor="start" font-weight="bold" >TALD</text>
<text transform="translate(376.60,591.80) scale(0.92,1)" font-size="14.3" fill="#6d6e71" text-anchor="start" font-weight="normal" >SARS-CoV-2 consensus spike mRNA (0.05 µg)</text>
<text transform="translate(376.60,607.60) scale(0.92,1)" font-size="14.3" fill="#6d6e71" text-anchor="start" font-weight="normal" >+ VEEV replicase mRNA (20 µg)</text>
</svg>
</body></html>
